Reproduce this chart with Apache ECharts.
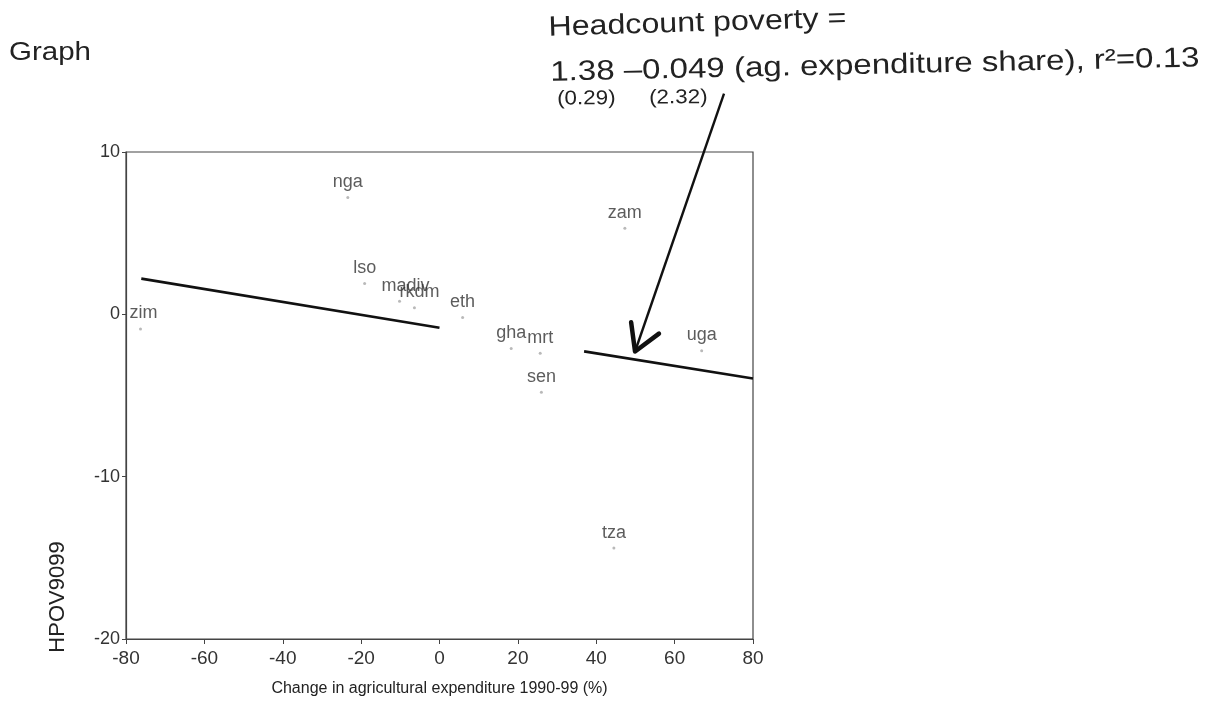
<!DOCTYPE html>
<html>
<head>
<meta charset="utf-8">
<title>Headcount poverty vs change in agricultural expenditure</title>
<script src="https://cdn.jsdelivr.net/npm/echarts@6/dist/echarts.min.js"></script>
<style>
  html, body { margin: 0; padding: 0; background: #ffffff; }
  #chart { width: 1205px; height: 702px; }
</style>
</head>
<body>
<div id="chart"></div>
<script>
// Country codes, change in agricultural expenditure 1990-99 (%), and HPOV9099
const countries = ['zim', 'nga', 'lso', 'madiv', 'rkdm', 'eth', 'gha', 'mrt', 'sen', 'zam', 'uga', 'tza'];
const expChange = [-76.3, -23.4, -19.1, -10.2, -6.4, 5.9, 18.3, 25.7, 26.0, 47.3, 66.9, 44.5];
const hpov = [-0.9, 7.2, 1.9, 0.8, 0.4, -0.2, -2.1, -2.4, -4.8, 5.3, -2.25, -14.4];

// Fitted line, drawn in two pieces
const fitPieceA = [[-76.1, 2.2], [0, -0.83]];
const fitPieceB = [[36.9, -2.28], [80, -3.95]];

// Hand-drawn pointer from the equation to the fitted line
const pointerShaft = [[72.6, 13.6], [49.9, -2.29]];
const pointerHead = [[48.9, -0.49], [49.9, -2.29], [56.0, -1.19]];

// Axis ticks
const xTicks = [-80, -60, -40, -20, 0, 20, 40, 60, 80];
const yTicks = [-20, -10, 0, 10];

// Text
const pageTitle = 'Graph';
const eqLine1 = 'Headcount poverty =';
const eqLine2 = '1.38 \u20130.049 (ag. expenditure share), r\u00B2=0.13';
const seIntercept = '(0.29)';
const seSlope = '(2.32)';
const xName = 'Change in agricultural expenditure 1990-99 (%)';
const yName = 'HPOV9099';

const FONT = '"Liberation Sans", Arial, Helvetica, sans-serif';
const INK = '#222222';

const points = countries.map((c, i) => ({
  name: c,
  value: [expChange[i], hpov[i]],
  label: { offset: c === 'madiv' ? [6, 0] : (c === 'rkdm' ? [5, 0] : (c === 'zim' ? [3, 0] : [0, 0])) }
}));

const chart = echarts.init(document.getElementById('chart'), null, { renderer: 'canvas' });

chart.setOption({
  animation: false,
  backgroundColor: '#ffffff',
  grid: {
    left: 126, right: 452, top: 152, bottom: 63,
    show: true, borderColor: '#444', borderWidth: 1.2, backgroundColor: 'transparent'
  },
  xAxis: {
    type: 'value',
    min: xTicks[0], max: xTicks[xTicks.length - 1], interval: 20,
    name: xName,
    nameLocation: 'middle',
    nameGap: 42,
    nameTextStyle: { fontFamily: FONT, fontSize: 16, color: INK },
    axisLine: { show: true, onZero: false, lineStyle: { color: '#444', width: 1.2 } },
    axisTick: { show: true, length: 5, lineStyle: { color: '#444' } },
    axisLabel: { fontFamily: FONT, fontSize: 19, color: '#333', margin: 10 },
    splitLine: { show: false }
  },
  yAxis: {
    type: 'value',
    min: yTicks[0], max: yTicks[yTicks.length - 1], interval: 10,
    axisLine: { show: true, onZero: false, lineStyle: { color: '#444', width: 1.2 } },
    axisTick: { show: true, length: 4, lineStyle: { color: '#444' } },
    axisLabel: { fontFamily: FONT, fontSize: 18, color: '#333', margin: 6 },
    splitLine: { show: false }
  },
  series: [
    {
      type: 'scatter',
      data: points,
      symbol: 'circle',
      symbolSize: 3,
      itemStyle: { color: '#a8a8a8' },
      label: {
        show: true,
        position: 'top',
        distance: 5,
        formatter: p => p.name,
        fontFamily: FONT,
        fontSize: 18,
        color: '#333'
      },
      z: 3
    },
    {
      type: 'line',
      data: fitPieceA,
      showSymbol: false,
      lineStyle: { color: '#111', width: 2.6 },
      z: 4
    },
    {
      type: 'line',
      data: fitPieceB,
      showSymbol: false,
      lineStyle: { color: '#111', width: 2.6 },
      z: 4
    },
    {
      type: 'line',
      data: pointerShaft,
      showSymbol: false,
      clip: false,
      lineStyle: { color: '#111', width: 2.4 },
      z: 5
    },
    {
      type: 'line',
      data: pointerHead,
      showSymbol: false,
      clip: false,
      lineStyle: { color: '#111', width: 4.5, cap: 'round', join: 'round' },
      z: 5
    }
  ],
  graphic: [
    {
      type: 'text', x: 9, y: 41, scaleX: 1.18,
      style: { text: pageTitle, fontFamily: FONT, fontSize: 25, fill: INK, verticalAlign: 'top' }
    },
    {
      type: 'text', x: 548, y: 14, rotation: 0.03, originX: 0, originY: 0,
      scaleX: 1.15,
      style: { text: eqLine1, fontFamily: FONT, fontSize: 28, fill: INK, verticalAlign: 'top' }
    },
    {
      type: 'text', x: 550, y: 59, rotation: 0.022, originX: 0, originY: 0,
      scaleX: 1.18,
      style: { text: eqLine2, fontFamily: FONT, fontSize: 28, fill: INK, verticalAlign: 'top' }
    },
    {
      type: 'text', x: 557, y: 89, rotation: 0.01, originX: 0, originY: 0,
      scaleX: 1.12,
      style: { text: seIntercept, fontFamily: FONT, fontSize: 20, fill: INK, verticalAlign: 'top' }
    },
    {
      type: 'text', x: 649, y: 88, rotation: 0.01, originX: 0, originY: 0,
      scaleX: 1.12,
      style: { text: seSlope, fontFamily: FONT, fontSize: 20, fill: INK, verticalAlign: 'top' }
    },
    {
      type: 'text', x: 58, y: 597, rotation: Math.PI / 2,
      style: { text: yName, fontFamily: FONT, fontSize: 22, fill: INK, align: 'center', verticalAlign: 'middle' }
    }
  ]
});
</script>
</body>
</html>
